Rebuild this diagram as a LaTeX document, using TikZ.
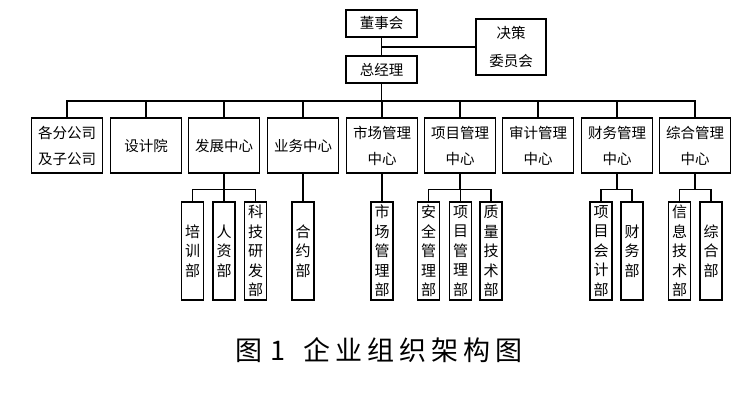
\documentclass[tikz,border=0pt]{standalone}
\usepackage{fontspec}
\setmainfont{Noto Sans CJK SC}
\begin{document}
\begin{tikzpicture}[x=1pt,y=-1pt,
  box/.style={draw,line width=1.4pt,inner sep=0pt,align=center,font=\fontsize{14.5}{26}\selectfont},
  topbox/.style={box,minimum width=71pt,minimum height=27pt},
  midbox/.style={box,minimum width=71pt,minimum height=55pt},
  subbox/.style={box,minimum width=22pt,minimum height=98pt,font=\fontsize{15}{19.5}\selectfont},
  link/.style={line width=1.4pt}]
\useasboundingbox (0,0) rectangle (748,400);
\node[topbox] (dsh) at (381.5,23.5) {董事会};
\node[topbox] (zjl) at (381.5,69.5) {总经理};
\node[box,minimum width=70pt,minimum height=56pt,font=\fontsize{14.5}{28}\selectfont] (jc) at (511,47) {决策\\委员会};
\coordinate (bus) at (381.5,101);
\node[midbox] (c1) at (67,145.5) {各分公司\\及子公司};
\node[midbox] (c2) at (146,145.5) {设计院};
\node[midbox] (c3) at (224,145.5) {发展中心};
\node[midbox] (c4) at (303,145.5) {业务中心};
\node[midbox] (c5) at (382,145.5) {市场管理\\中心};
\node[midbox] (c6) at (460,145.5) {项目管理\\中心};
\node[midbox] (c7) at (538,145.5) {审计管理\\中心};
\node[midbox] (c8) at (617,145.5) {财务管理\\中心};
\node[midbox] (c9) at (695,145.5) {综合管理\\中心};
\node[subbox] (d1) at (192.5,251) {培\\训\\部};
\node[subbox] (d2) at (224,251) {人\\资\\部};
\node[subbox] (d3) at (255.5,251) {科\\技\\研\\发\\部};
\node[subbox] (e1) at (303,251) {合\\约\\部};
\node[subbox] (f1) at (382,251) {市\\场\\管\\理\\部};
\node[subbox] (g1) at (428.5,251) {安\\全\\管\\理\\部};
\node[subbox] (g2) at (460.5,251) {项\\目\\管\\理\\部};
\node[subbox] (g3) at (491,251) {质\\量\\技\\术\\部};
\node[subbox] (h1) at (601,251) {项\\目\\会\\计\\部};
\node[subbox] (h2) at (632,251) {财\\务\\部};
\node[subbox] (i1) at (679.5,251) {信\\息\\技\\术\\部};
\node[subbox] (i2) at (711,251) {综\\合\\部};
\node[font=\fontsize{27}{30}\selectfont] (cap) at (379,350) {图\hspace{8pt}1\hspace{18pt}企\hspace{5pt}业\hspace{5pt}组\hspace{5pt}织\hspace{5pt}架\hspace{5pt}构\hspace{5pt}图};
% top connectors
\draw[link] (dsh.south) -- (zjl.north);
\draw[link] (jc.west) -- (dsh.south |- jc.west);
\draw[link] (zjl.south) -- (bus);
\draw[link] (c1.north) |- (bus) -| (c9.north);
\foreach \n in {c2,c3,c4,c5,c6,c7,c8} \draw[link] (\n.north) -- (\n.north |- bus);
% sub connectors
\draw[link] (c3.south) -- ++(0,16) coordinate (s3);
\draw[link] (d1.north) |- (s3) -| (d3.north);
\draw[link] (d2.north) -- (d2.north |- s3);
\draw[link] (c4.south) -- (e1.north);
\draw[link] (c5.south) -- (f1.north);
\draw[link] (c6.south) -- ++(0,16) coordinate (s6);
\draw[link] (g1.north) |- (s6) -| (g3.north);
\draw[link] (g2.north) -- (g2.north |- s6);
\draw[link] (c8.south) -- ++(0,16) coordinate (s8);
\draw[link] (h1.north) |- (s8) -| (h2.north);
\draw[link] (c9.south) -- ++(0,16) coordinate (s9);
\draw[link] (i1.north) |- (s9) -| (i2.north);
\end{tikzpicture}
\end{document}
